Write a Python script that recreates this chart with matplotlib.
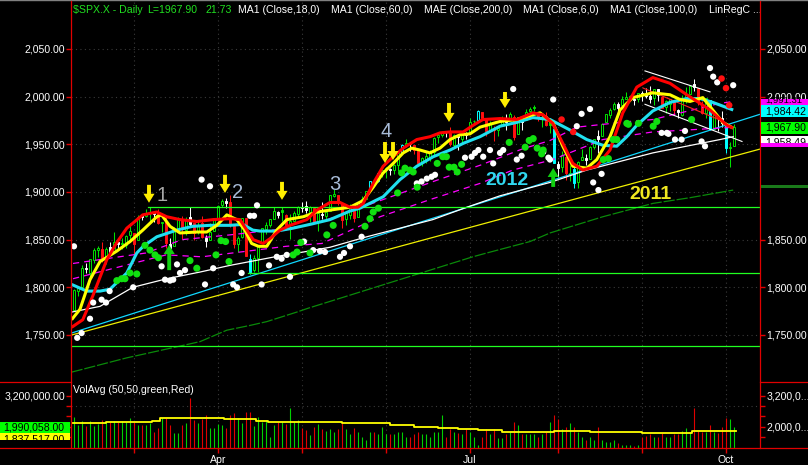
import matplotlib
matplotlib.use('Agg')
import matplotlib.pyplot as plt
from matplotlib.patches import Rectangle
from matplotlib.lines import Line2D
from matplotlib.ticker import FuncFormatter

plt.rcParams['font.family'] = ['Liberation Sans', 'DejaVu Sans']

W, H = 808, 465
FS = 7.6

# ---------------- data (trading-day index 0 = 6 Feb 2014) ----------------
month_idx = [16, 37, 58, 79, 100, 122, 143, 164]
month_lbl = ['', 'Apr', '', '', 'Jul', '', '', 'Oct']

opens = [1752,1776,1796,1800,1820,1815,1829,1839,1840,1829,1842,1837,1848,1846,1844,1855,
 1857,1850,1874,1875,1878,1877,1878,1867,1870,1845,1843,1859,1872,1860,1874,1867,1859,1867,1852,1850,1859,
 1873,1886,1891,1890,1864,1845,1853,1873,1830,1818,1831,1846,1861,1865,1872,1879,1881,1876,1866,1870,1877,
 1884,1885,1879,1883,1869,1877,1875,1880,1896,1897,1888,1872,1876,1884,1874,1888,1893,1903,1911,1911,1920,
 1924,1923,1923,1928,1942,1949,1950,1949,1943,1931,1934,1937,1942,1958,1960,1963,1962,1949,1959,1956,1960,
 1962,1974,1975,1984,1976,1965,1966,1965,1970,1977,1976,1979,1961,1976,1976,1985,1988,1984,1978,1980,1973,1966,
 1929,1926,1937,1918,1924,1910,1934,1936,1935,1947,1959,1959,1973,1981,1987,1992,1991,1998,2000,1997,1998,
 2004,2003,2001,1999,2008,2000,1989,1992,1996,1986,1981,1999,2003,2013,2009,1992,1983,1997,1966,1979,1978,
 1971,1946,1948]
highs = [1774,1798,1800,1823,1826,1830,1841,1843,1847,1842,1847,1858,1852,1852,1855,1867,
 1857,1876,1876,1882,1884,1878,1882,1868,1874,1852,1863,1874,1875,1874,1884,1867,1871,1875,1855,1867,1873,
 1886,1893,1894,1897,1865,1854,1872,1873,1835,1834,1844,1862,1869,1872,1884,1880,1884,1877,1877,1880,1885,
 1889,1891,1885,1883,1881,1890,1879,1897,1903,1897,1888,1878,1887,1884,1889,1896,1901,1912,1914,1920,1924,
 1926,1925,1929,1942,1950,1956,1951,1949,1944,1937,1942,1944,1958,1960,1964,1964,1968,1961,1959,1961,1963,
 1978,1976,1986,1984,1976,1974,1969,1968,1980,1982,1984,1981,1979,1976,1987,1989,1991,1984,1981,1984,1978,1966,
 1932,1943,1937,1928,1928,1932,1945,1940,1948,1955,1965,1972,1982,1988,1994,1994,2001,2005,2002,1999,2004,
 2006,2009,2011,2008,2008,2001,1996,1997,1996,1987,2002,2010,2012,2019,2009,1995,1999,1997,1986,1979,1985,
 1971,1952,1971]
lows = [1752,1776,1791,1800,1815,1809,1825,1832,1827,1824,1836,1837,1840,1840,1841,1847,
 1834,1850,1871,1874,1870,1868,1866,1858,1841,1839,1843,1858,1851,1855,1864,1850,1856,1852,1842,1850,1859,
 1873,1884,1883,1863,1841,1837,1852,1833,1814,1816,1816,1846,1856,1863,1872,1873,1870,1860,1851,1870,1873,
 1879,1878,1868,1867,1859,1872,1870,1880,1895,1886,1862,1865,1872,1868,1874,1888,1893,1903,1908,1910,1916,
 1915,1918,1919,1922,1941,1947,1943,1940,1929,1927,1930,1933,1938,1951,1958,1958,1948,1946,1944,1952,1956,
 1962,1972,1975,1975,1959,1965,1953,1959,1970,1965,1976,1955,1961,1965,1976,1983,1985,1974,1968,1969,1962,1930,
 1916,1921,1913,1911,1904,1904,1934,1928,1935,1945,1941,1959,1973,1978,1986,1985,1991,1998,1996,1991,1994,
 1995,1999,1993,1991,1995,1988,1983,1985,1981,1978,1980,1993,2003,2006,1991,1982,1978,1965,1966,1964,1968,
 1941,1926,1948]
closes = [1773.43,1797.02,1799.84,1819.75,1819.26,1829.83,1838.63,1840.76,1828.75,1839.78,1836.25,1847.61,1845.12,1845.16,1854.29,1859.45,
 1845.73,1873.91,1873.81,1877.03,1878.04,1877.17,1867.63,1868.20,1846.34,1841.13,1858.83,1872.25,1860.77,1872.01,1866.52,1857.44,1865.62,1852.56,1849.04,1857.62,1872.34,
 1885.52,1890.90,1888.77,1865.09,1845.04,1851.96,1872.18,1833.08,1815.69,1830.61,1842.98,1862.31,1864.85,1871.89,1879.55,1875.39,1878.61,1863.40,1869.43,1878.33,1883.95,
 1883.68,1881.14,1884.66,1867.72,1878.21,1875.63,1878.48,1896.65,1897.45,1888.53,1870.85,1877.86,1885.08,1872.83,1888.03,1892.49,1900.53,1911.91,1909.78,1920.03,1923.57,
 1924.97,1924.24,1927.88,1940.46,1949.44,1951.27,1950.79,1943.89,1930.11,1936.16,1937.78,1941.99,1956.98,1959.48,1962.87,1962.61,1949.98,1959.53,1957.22,1960.96,1960.23,
 1973.32,1974.62,1985.44,1977.65,1963.71,1972.83,1964.68,1967.57,1977.10,1973.28,1981.57,1958.12,1978.22,1973.63,1983.53,1987.01,1987.98,1978.34,1978.91,1969.95,1970.07,1930.67,
 1925.15,1938.99,1920.21,1920.24,1909.57,1931.59,1936.92,1933.75,1946.72,1955.18,1955.06,1971.74,1981.60,1986.51,1992.37,1988.40,1997.92,2000.02,2000.12,1996.74,2003.37,
 2002.28,2000.72,1997.65,2007.71,2001.54,1988.44,1995.69,1997.45,1985.54,1984.13,1998.98,2001.57,2011.36,2010.40,1994.29,1982.77,1998.30,1965.99,1982.85,1977.80,1972.29,
 1946.16,1946.17,1967.90]
volumes = [2.35,2.39,2.07,2.22,2.04,2.22,2.04,2.10,2.26,2.20,2.20,2.22,2.20,2.22,2.20,2.33,
 2.20,2.07,2.07,2.07,2.13,1.78,1.94,2.33,2.33,2.07,1.74,1.74,2.07,2.13,3.11,2.26,2.13,2.29,2.46,1.94,1.94,
 2.10,2.07,1.94,2.46,2.52,2.33,2.13,2.56,2.59,2.04,2.39,2.20,2.26,1.61,2.07,2.20,2.20,2.10,2.74,2.20,2.26,
 1.94,1.87,1.68,2.00,2.10,1.90,1.85,1.90,1.80,1.90,2.20,1.90,1.70,1.95,1.80,1.60,1.50,1.80,1.80,1.70,2.00,
 1.70,1.70,1.70,1.80,1.80,1.60,1.60,1.70,1.80,1.70,1.70,1.60,1.80,1.80,2.45,1.60,1.90,1.80,1.75,1.70,1.90,
 1.80,1.60,1.30,1.60,1.90,1.70,1.90,1.55,1.55,1.70,1.80,2.20,2.05,1.70,1.70,1.70,1.70,1.60,1.70,1.80,2.20,2.45,
 2.30,1.90,2.00,2.15,2.00,1.80,1.60,1.50,1.60,1.50,2.00,1.50,1.40,1.40,1.50,1.35,1.30,1.30,1.30,1.25,1.30,
 1.60,1.65,1.70,1.60,1.60,1.75,1.60,1.60,1.70,1.70,1.85,1.95,1.80,2.72,1.85,1.80,1.80,2.05,1.80,1.75,2.00,
 2.33,2.29,1.99]
cyan_days = [45, 75, 77, 83, 102, 121, 126, 160, 164]

volavg_x = [0.5, 9, 18.5, 20.5, 22.5, 38.5, 46.5, 49.5, 56, 62, 68, 75, 80, 86, 92, 97, 102, 108, 121, 130, 143, 155.5, 166.5]
volavg_y = [2.13, 2.20, 2.17, 2.22, 2.33, 2.29, 2.22, 2.17, 2.20, 2.17, 2.15, 2.13, 2.07, 2.00, 1.93, 1.90, 1.87, 1.80, 1.84, 1.80, 1.77, 1.83, 1.83]

red_x = [0.4,3.2,5.7,9.2,11.7,14.2,18.2,21.7,24.2,27.5,31.7,35.7,40,42.5,44.2,45.8,48.3,50,52.5,55,59.2,61.7,65,67.5,70,72,73.3,75.8,78.3,80.8,83.3,86.7,90,92.5,95,98.3,100.8,103.2,107.5,111.7,115.7,118.2,120.7,123.2,125.7,128.2,131.7,135,138.2,141.7,145.7,150,154.2,157.5,160,164.2,165.8]
red_y = [1758,1766,1791,1829,1847,1862,1876,1879,1874,1871,1869,1871,1872,1871,1860,1850,1846,1851,1860,1865,1871,1881,1889,1889,1884,1884,1888,1909,1927,1937,1946,1955,1958,1962,1963,1963,1970,1976,1977,1976,1983,1981,1972,1951,1930,1923,1927,1944,1983,2010,2020,2014,2002,1993,1986,1970,1967]
yel_x = [0.4,2.5,5,7.5,11.7,15,18.2,21.7,22.9,25,27.5,31.7,34.2,36.7,39.2,41.7,43.7,45.4,47.1,49.2,51.7,54.2,58.3,61.7,65,70,73.3,75.8,78.3,80.8,83.3,85.4,87.5,90,92.5,95,97.5,100,102.5,107.5,111.7,115.7,117.5,120.8,123.2,125.7,129.2,131.7,135,137.5,140.7,145.7,150,152.5,155,158.2,160.7,163.2,165.8]
yel_y = [1766,1777,1808,1827,1838,1848,1860,1874,1876,1864,1857,1858,1858,1865,1876,1871,1860,1846,1843,1843,1860,1871,1874,1879,1881,1884,1891,1905,1920,1930,1941,1946,1944,1941,1946,1955,1960,1961,1968,1974,1976,1981,1983,1972,1948,1927,1925,1934,1958,1986,1999,2004,2002,1997,1995,1999,1986,1973,1967]
cyn_x = [0.4,4.2,7.5,10,14.2,16.7,18.3,21.7,26.7,30.7,35,40,43.2,45.7,47.5,50,51.7,55.7,60,62,65,70,72.5,78.3,82.5,86.7,90.8,95,98.3,102.5,107.5,111.7,115.7,120,125,129.2,133.2,136.7,139.2,141.7,145.7,150,154.2,157.5,160.7,165.8]
cyn_y = [1803,1796,1796,1798,1815,1836,1843,1853,1860,1864,1865,1865,1866,1860,1859,1859,1859,1862,1866,1868,1871,1880,1883,1895,1913,1927,1937,1944,1951,1958,1969,1973,1978,1976,1965,1955,1949,1948,1958,1970,1985,1994,1998,1998,1994,1986]
wht_x = [0.4,7.5,15.7,24.2,32.5,40,52.5,58.3,65,74.2,90.7,99.2,107.5,120,129.2,145.7,162.5,165.8]
wht_y = [1774,1780,1800,1809,1816,1823,1833,1837,1842,1853,1871,1884,1896,1910,1923,1941,1955,1958]
dg_x = [0.4,14.2,25,32.5,39.2,45,49.2,56.7,59.5,100.7,104.2,115,120,133.2,145.7,155,165.8]
dg_y = [1711,1726,1736,1743,1755,1760,1764,1774,1778,1832,1836,1848,1857,1874,1888,1894,1902]
mu_x = [0.75,19,28,40,55,63,91.5,102.5,113,120,126.7,140,145.7,162.5,166]
mu_y = [1825,1836,1850,1855,1862,1869,1912,1928,1945,1954,1968,1974,1976,1993,1995]
ml_x = [0.75,24,33,54,63,77.5,90,102.5,110.7,120.7,133.2,145.7,162.5,166]
ml_y = [1809,1834,1832,1843,1846,1874,1892,1909,1923,1934,1955,1963,1967,1968]

trend_2012 = ([0, 172.5], [1751.5, 1981.5])
trend_2011 = ([0, 172.5], [1749.5, 1945.0])
support_lvls = [1884, 1814.5, 1738]
support_from = [19.5, 44.5, 0.25]
chan_w1 = ([143.75, 160], [2027, 2005])
chan_w2 = ([143.75, 168], [1992, 1953])
chan_r = ([143.3, 163.3], [2009, 1974])

wdot_x = [1,1.8,2.9,5,5.8,7.9,9,9.9,15.8,22.9,23.75,25,25.8,26.75,27.5,28.75,32.9,35,33.75,35.8,40.8,41.75,42.9,45,46,46.75,47.9,49.75,51.7,52.9,54.2,55,58.5,60.8,62.5,63.75,67.5,68.5,70,72.9,86.7,87.9,89.2,90.4,91.25,98.75,100.4,101.25,102.1,103.3,105,105.8,107.5,108.3,110.8,111.7,112.9,118.3,119.6,120.8,120,126.7,127.9,130,130.8,132.1,132.9,147.9,149.2,149.6,151.25,152.9,153.75,157.9,158.75,160,160.8,161.8,165.8]
wdot_y = [1843,1747,1752,1767,1784,1787,1784,1796,1800,1822,1808,1807,1808,1824,1815,1818,1913,1906,1803,1820,1803,1800,1815,1875,1875,1886,1803,1823,1832,1830,1834,1811,1848,1839,1838,1837,1832,1836,1843,1853,1909,1911,1914,1916,1918,1936,1937,1941,1944,1937,1944,1930,1941,1944,2008,1934,1938,1942,1936,1997,1934,1969,1982,1987,1910,1902,1919,1962,1962,1961,1955,1955,1964,1953,1948,2030,2021,2015,2012]
gdot_x = [11.7,12.9,13.75,15,16.7,18.75,20,21.25,22.1,30,31.7,36.5,37.75,38.9,39.75,55.8,56.75,57.7,60,64.2,65.8,73.75,75,75.8,77.1,81.9,82.9,83.75,85,85.8,86.8,91.8,93.2,94.1,94.8,96,96.8,97.9,109.8,113.8,114.8,115.8,116.8,117.9,118.3,133.3,134.6,135.8,136.7,139.2,139.6,142.1,145.8,146.7,155.4]
gdot_y = [1807,1809,1809,1815,1814,1844,1839,1834,1831,1828,1820,1834,1849,1848,1827,1834,1837,1847,1836,1855,1865,1864,1872,1879,1883,1899,1920,1925,1923,1921,1905,1930,1937,1937,1926,1926,1921,1929,1952,1947,1954,1956,1946,1940,1944,1934,1935,1955,1955,1972,1971,1972,1969,1974,1976]
rdot_x = [122.9, 125.8, 162.9, 164, 164.8]
rdot_y = [1976, 1963, 2019, 2009, 1991]

yarrow_x = [19.75, 38.75, 53, 78.75, 80.75, 94.75, 108.75]
yarrow_tail = [1907.5, 1918, 1910.6, 1952.4, 1952.4, 1993.4, 2004.9]
yarrow_tip = [1888.7, 1899, 1891.7, 1930.4, 1933.5, 1973.5, 1988.1]
garrow_x = [24.8, 120.8]
garrow_tail = [1818, 1905.3]
garrow_tip = [1844.4, 1925.2]

wave_lbl = ['1', '2', '3', '4']
wave_x = [23.1, 42.0, 66.1, 79.0]
wave_y = [1896.8, 1899.5, 1908.0, 1963.3]
line_lbl = ['2012', '2011']
line_lbl_x = [109.2, 145.0]
line_lbl_y = [1912.3, 1897.4]

# ---------------- figure ----------------
fig = plt.figure(figsize=(W / 100, H / 100), dpi=100, facecolor='black')

def fx(x):
    return x / W

def fy(y):
    return 1 - y / H

XL = (0.25, 172.5)
ax = fig.add_axes([fx(71), fy(381), (760 - 71) / W, (381 - 2) / H])
vax = fig.add_axes([fx(71), fy(448), (760 - 71) / W, (448 - 382) / H])
for a in (ax, vax):
    a.set_facecolor('black')
    a.set_xlim(*XL)
    for s in a.spines.values():
        s.set_visible(False)
ax.set_ylim(1701.7, 2099.3)
vax.set_ylim(1.168, 3.746)

grid_kw = dict(color='#3a3a3a', linestyle=(0, (1, 3)), linewidth=0.8)
ax.set_xticks(month_idx)
ax.tick_params(axis='x', bottom=False, labelbottom=False)
ax.set_yticks([1750, 1800, 1850, 1900, 1950, 2000, 2050])
ax.yaxis.set_major_formatter(FuncFormatter(lambda v, p: f"{v:,.2f}"))
ax.tick_params(axis='y', left=True, labelleft=True, direction='out', length=3.6, width=1,
               color='#e00000', labelcolor='white', labelsize=FS, pad=0.8)
ax.grid(True, **grid_kw)
ax.set_axisbelow(True)

axr = ax.twinx()
axr.set_ylim(ax.get_ylim())
for s in axr.spines.values():
    s.set_visible(False)
axr.set_yticks([1750, 1800, 1850, 2000, 2050])
axr.yaxis.set_major_formatter(FuncFormatter(lambda v, p: f"{v:,.2f}"))
axr.tick_params(axis='y', right=True, labelright=True, direction='out', length=3.6, width=1,
                color='#e00000', labelcolor='white', labelsize=FS, pad=0.8)

# candles
n = len(closes)
for i in range(n):
    o, h, l, c = opens[i], highs[i], lows[i], closes[i]
    h = max(h, o, c)
    l = min(l, o, c)
    prev = closes[i - 1] if i > 0 else o
    chg = (c - prev) / prev
    if i in cyan_days:
        col = '#00ffff'
    elif c > prev:
        col = '#00e000'
    elif chg < -0.0035:
        col = '#ff1010'
    else:
        col = '#ffffff'
    filled = c < o
    ax.vlines(i, l, h, color=col, lw=0.75, zorder=2)
    ax.add_patch(Rectangle((i - 0.36, min(o, c)), 0.72, max(abs(c - o), 0.8),
                           facecolor=col if filled else 'black', edgecolor=col,
                           lw=0.7, zorder=2.1))

# thin lines
ax.plot(*trend_2012, color='#10d8ff', lw=0.9, zorder=3)
ax.plot(*trend_2011, color='#f0f000', lw=0.9, zorder=3)
ax.plot(wht_x, wht_y, color='white', lw=0.9, zorder=3)
ax.plot(dg_x, dg_y, color='#0a8a0a', lw=0.9, dashes=(9, 1.5), zorder=3)
ax.plot(mu_x, mu_y, color='#ff00ff', lw=0.9, dashes=(5, 4), zorder=3)
ax.plot(ml_x, ml_y, color='#ff00ff', lw=0.9, dashes=(5, 4), zorder=3)
for lvl, x0 in zip(support_lvls, support_from):
    ax.plot([x0, XL[1]], [lvl, lvl], color='#20ff20', lw=0.9, zorder=3)
ax.plot(*chan_w1, color='white', lw=0.8, zorder=3)
ax.plot(*chan_w2, color='white', lw=0.8, zorder=3)
ax.plot(*chan_r, color='#ff2020', lw=0.8, zorder=3)

# thick moving averages
ax.plot(cyn_x, cyn_y, color='#20e0f0', lw=2.2, zorder=4, solid_capstyle='butt')
ax.plot(yel_x, yel_y, color='#ffff00', lw=2.2, zorder=4.1, solid_capstyle='butt')
ax.plot(red_x, red_y, color='#ff0000', lw=2.2, zorder=4.2, solid_capstyle='butt')

# dots
ax.scatter(wdot_x, wdot_y, s=20, color='white', edgecolors='none', zorder=5)
ax.scatter(gdot_x, gdot_y, s=26, color='#10e010', edgecolors='none', zorder=5)
ax.scatter(rdot_x, rdot_y, s=22, color='#ff1010', edgecolors='none', zorder=5)

# arrows
astyle = 'simple,head_length=0.65,head_width=0.8,tail_width=0.28'
for x, t0, t1 in zip(yarrow_x, yarrow_tail, yarrow_tip):
    ax.annotate('', xy=(x, t1), xytext=(x, t0), zorder=7,
                arrowprops=dict(arrowstyle=astyle, color='#ffee00', shrinkA=0, shrinkB=0,
                                mutation_scale=10, lw=0))
for x, t0, t1 in zip(garrow_x, garrow_tail, garrow_tip):
    ax.annotate('', xy=(x, t1), xytext=(x, t0), zorder=7,
                arrowprops=dict(arrowstyle=astyle, color='#10d010', shrinkA=0, shrinkB=0,
                                mutation_scale=10, lw=0))

wave_col = ['#a8a8a8', '#a8bcd8', '#a8bcd8', '#a8bcd8']
for t, x, y, c in zip(wave_lbl, wave_x, wave_y, wave_col):
    ax.text(x, y, t, color=c, fontsize=14.5, ha='center', va='center', zorder=7)
for t, x, y, c in zip(line_lbl, line_lbl_x, line_lbl_y, ['#30d8f0', '#f0e820']):
    ax.text(x, y, t, color=c, fontsize=14, fontweight='bold', ha='center', va='center', zorder=7)

# ---------------- volume panel ----------------
vcols = []
for i in range(n):
    prev = closes[i - 1] if i > 0 else opens[i]
    vcols.append('#00d000' if closes[i] >= prev else '#e00000')
vax.vlines(range(n), 1.168, volumes, colors=vcols, lw=0.8, zorder=3)
vax.step(volavg_x, volavg_y, where='post', color='#ffff00', lw=1.3, zorder=4)
vax.set_xticks(month_idx)
vax.set_xticklabels(month_lbl)
vax.tick_params(axis='x', direction='out', length=3.6, width=1, color='#e00000',
                labelcolor='white', labelsize=FS, pad=1.5)
vax.set_yticks([1.6, 2.0, 2.4, 2.8, 3.2])
vax.set_yticklabels(['', '2,000,000.00', '', '', '3,200,000.00'])
vax.tick_params(axis='y', direction='out', length=3.6, width=1, color='#e00000',
                labelcolor='white', labelsize=FS, pad=0.8)
vax.grid(True, axis='x', **grid_kw)
vax.axhline(2.8, zorder=1, **grid_kw)
vax.set_axisbelow(True)
vaxr = vax.twinx()
vaxr.set_ylim(vax.get_ylim())
for s in vaxr.spines.values():
    s.set_visible(False)
vaxr.set_yticks([1.6, 2.0, 2.4, 2.8, 3.2])
vaxr.set_yticklabels(['', '2,000,0...', '', '', '3,200,0...'])
vaxr.tick_params(axis='y', direction='out', length=3.6, width=1, color='#e00000',
                 labelcolor='white', labelsize=FS, pad=0.8)
fig.text(fx(73), fy(390), 'VolAvg (50,50,green,Red)', color='white', fontsize=FS,
         ha='left', va='center')

# ---------------- frame lines ----------------
def fline(x0, y0, x1, y1, color, lw=0.9, z=8):
    fig.add_artist(Line2D([fx(x0), fx(x1)], [fy(y0), fy(y1)], color=color, lw=lw,
                          transform=fig.transFigure, zorder=z))

fline(0, 0.5, 808, 0.5, '#808080', 1.0)
fline(71, 1.5, 71, 448, '#e00000')
fline(760, 1.5, 760, 448, '#e00000')
fline(0, 381.7, 71, 381.7, '#e00000')
fline(760, 381.7, 808, 381.7, '#e00000')
fline(0, 448.3, 808, 448.3, '#e00000')

# ---------------- header legend ----------------
fig.text(fx(73.3), fy(10), '$SPX.X - Daily', color='#20e020', fontsize=FS, ha='left', va='center')
fig.text(fx(146.7), fy(10), 'L=1967.90', color='#20e020', fontsize=FS, ha='left', va='center')
fig.text(fx(205), fy(10), '21.73', color='#20e020', fontsize=FS, ha='left', va='center')
hdr = ['MA1 (Close,18,0)', 'MA1 (Close,60,0)', 'MAE (Close,200,0)', 'MA1 (Close,6,0)',
       'MA1 (Close,100,0)', 'LinRegC ...']
hdr_x = [237.7, 330.7, 424, 523, 609.7, 709]
for t, x in zip(hdr, hdr_x):
    fig.text(fx(x), fy(10), t, color='white', fontsize=FS, ha='left', va='center')

# ---------------- value boxes ----------------
def vbox(x0, y0, x1, y1, fc, txt, z, tx=None, ty=None, fs=FS):
    fig.add_artist(Rectangle((fx(x0), fy(y1)), (x1 - x0) / W, (y1 - y0) / H,
                             transform=fig.transFigure, facecolor=fc, edgecolor='none', zorder=z))
    if txt:
        fig.text(fx(tx if tx is not None else x0 + 4.5), fy(ty if ty is not None else (y0 + y1) / 2),
                 txt, color='black', fontsize=fs, ha='left', va='center', zorder=z + 0.05)

vbox(761, 99, 808, 106, '#ff00ff', '1,991.31', 9.0, ty=100.5, fs=6.8)
vbox(761, 105, 808, 117.5, '#00ffff', '1,984.42', 9.1, ty=112)
vbox(761, 121.7, 808, 134, '#00ff00', '1,967.90', 9.2)
vbox(761, 136, 808, 145, '#ffffff', '1,958.49', 9.3, ty=142.5)
vbox(761, 143.5, 808, 146.8, '#ff00ff', '', 9.4)
vbox(761, 184.7, 808, 188.3, '#1a7a1a', '', 9.5)
vbox(0, 427, 70, 440, '#ffff00', '1,837,517.00', 9.0, tx=3, ty=439.5)
vbox(0, 421.7, 70, 433.3, '#00ff00', '1,990,058.00', 9.1, tx=3, ty=427)

fig.savefig('out.png', dpi=100, facecolor='black')
